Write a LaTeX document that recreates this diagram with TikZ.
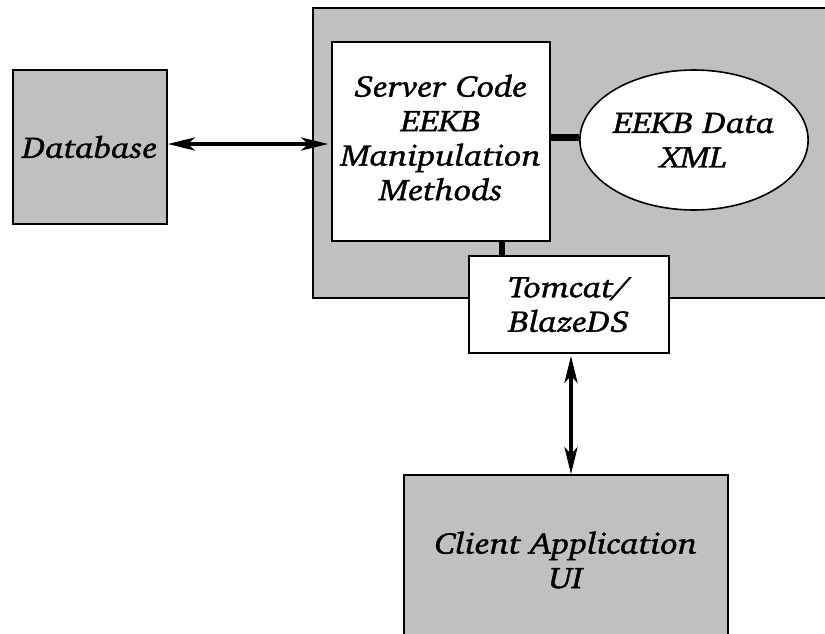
\documentclass[tikz,border=0pt]{standalone}
\usepackage[T1]{fontenc}
\usepackage{charter}
\usepackage{graphicx}
\usetikzlibrary{arrows.meta,shapes.geometric}
\definecolor{boxgray}{RGB}{192,192,192}
\newcommand\wl[1]{\special{pdf:literal direct 2 Tr 0.35 w}\scalebox{1.16}[1]{#1}\special{pdf:literal direct 0 Tr}}
\tikzset{
 lbl/.style={font=\fontsize{30}{34.5}\selectfont\itshape, align=center, text=black},
 box/.style={draw, line width=1.6pt, inner sep=0pt, lbl},
 thickconn/.style={line width=6.5pt},
 dbl/.style={line width=4pt, {Stealth[length=27pt,width=13pt,inset=7pt]}-{Stealth[length=27pt,width=13pt,inset=7pt]}}
}
\begin{document}
\begin{tikzpicture}[x=1pt,y=-1pt]
\useasboundingbox (0,0) rectangle (825,633);
\clip (0,0) rectangle (825,633);
\fill[white] (0,0) rectangle (825,633);
\node[box, fill=boxgray, minimum width=527pt, minimum height=290pt] (server) at (576.5,153) {};
\node[box, fill=boxgray, minimum width=154pt, minimum height=154pt] (db) at (90,147) {\wl{Database}};
\node[box, fill=white, minimum width=218pt, minimum height=199pt] (code) at (441,141.5) {\raisebox{5pt}{\begin{tabular}{@{}c@{}}\wl{Server Code}\\\wl{EEKB}\\\wl{Manipulation}\\\wl{Methods}\end{tabular}}};
\node[box, ellipse, fill=white, minimum width=180pt, minimum height=140pt] (ell) at (694,140) {\wl{EEKB Data}\\\wl{XML}};
\node[box, fill=white, minimum width=200pt, minimum height=97pt] (tomcat) at (569,304.5) {\wl{Tomcat/}\\\wl{BlazeDS}};
\node[box, fill=boxgray, minimum width=324pt, minimum height=170pt] (client) at (566,560) {\wl{Client Application}\\\wl{UI}};
\draw[dbl, shorten >=3pt] ([yshift=3pt]db.east) -- ([yshift=-2.5pt]code.west);
\draw[thickconn] ([yshift=4pt]code.east) -- ([yshift=4pt]code.east -| ell.west);
\draw[thickconn] ([xshift=61pt]code.south) -- ([xshift=61pt]code.south |- tomcat.north);
\draw[dbl, shorten <=2pt] ([xshift=2pt]tomcat.south) -- ([xshift=2pt]tomcat.south |- client.north);
\end{tikzpicture}
\end{document}
